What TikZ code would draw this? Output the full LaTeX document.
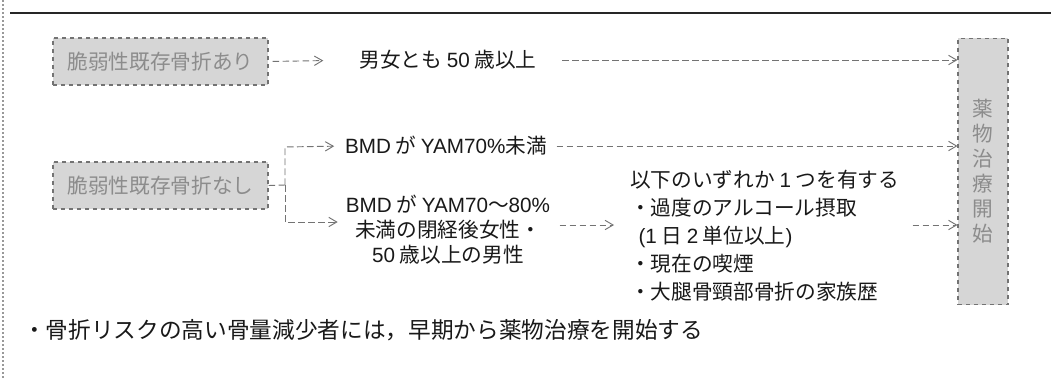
\documentclass[tikz,border=0pt]{standalone}
\usepackage{fontspec}
\setmainfont{Noto Sans CJK JP}
\newfontfamily\lat{Liberation Sans}
\usetikzlibrary{arrows.meta}
\begin{document}
\begin{tikzpicture}[x=0.75pt,y=-0.75pt,
  font=\fontsize{15.5pt}{19pt}\selectfont,
  gbox/.style={draw=black!55, dashed, line width=0.8pt, fill=black!16, text=black!45, inner sep=0pt},
  plain/.style={inner sep=0pt, text=black!90},
  conn/.style={draw=black!55, line width=0.7pt, dash pattern=on 5pt off 2.5pt},
  arr/.style={conn, -{Straight Barb[length=6pt,width=7pt]}}]
\useasboundingbox (0,0) rectangle (1051,379);
\fill[white] (0,0) rectangle (1051,379);
% page frame remnants
\draw[black!85, line width=1.2pt] (10,13) -- (1051,13);
\draw[black!40, line width=1.2pt, dash pattern=on 1.5pt off 1.5pt] (3,0) -- (3,379);

% boxes
\node[gbox, minimum width=161.25pt, minimum height=35.25pt] (b1) at (160.5,61.5) {脆弱性既存骨折あり};
\node[gbox, minimum width=161.25pt, minimum height=35.25pt] (b2) at (160.5,185.5) {脆弱性既存骨折なし};
\node[gbox, minimum width=37.5pt, minimum height=200pt, align=center,
      font=\fontsize{15.5pt}{18.75pt}\selectfont] (rb) at (983,171.5) {薬\\物\\治\\療\\開\\始};

% texts
\node[plain] (t1) at (448,60) {男女とも {\lat 50} 歳以上};
\node[plain] (m1) at (446,146) {{\lat BMD} が {\lat YAM70\%}未満};
\node[plain, align=center, font=\fontsize{15.5pt}{18.75pt}\selectfont] (m2) at (448,230)
  {{\lat BMD} が {\lat YAM70}〜{\lat 80\%}\\未満の閉経後女性・\\{\lat 50} 歳以上の男性};
\node[plain, align=left, anchor=west, font=\fontsize{15.5pt}{21pt}\selectfont] (lst) at (630,236)
  {以下のいずれか {\lat 1} つを有する\\・過度のアルコール摂取\\\hspace*{0.4em}{\lat (1} 日 {\lat 2} 単位以上{\lat )}\\・現在の喫煙\\・大腿骨頸部骨折の家族歴};
\node[plain, anchor=west, font=\fontsize{17pt}{20pt}\selectfont] (bt) at (23,330) {・骨折リスクの高い骨量減少者には，早期から薬物治療を開始する};

% connectors
\coordinate (br) at (285,185);
\coordinate (bt1) at (285,147);
\coordinate (bb1) at (285,222);
\coordinate (aY) at (0,225);

\draw[arr, shorten <=3pt, shorten >=27pt] (b1.east) -- (t1.west);
\draw[arr, shorten <=19pt] (t1.east) -- (rb.west |- t1);
\draw[arr, shorten <=7pt] (m1.east) -- (rb.west |- m1);
\draw[conn] (b2.east) -- (br);
\draw[arr, shorten >=8pt] (br) -- (bt1) -- (m1.west);
\draw[arr, shorten >=6pt] (br) -- (bb1) -- (m2.west |- bb1);
\draw[arr, shorten <=7pt, shorten >=12pt] (m2.east |- aY) -- (lst.west |- aY);
\draw[arr, shorten <=10pt] (lst.east |- aY) -- (rb.west |- aY);
\end{tikzpicture}
\end{document}
